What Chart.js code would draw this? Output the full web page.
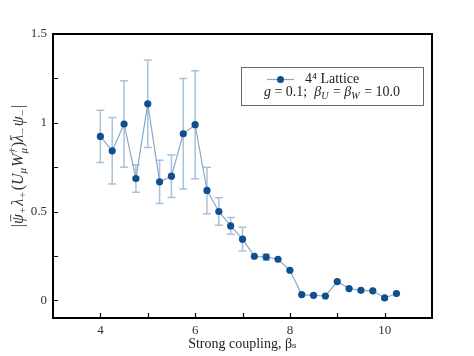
<!DOCTYPE html>
<html>
<head>
<meta charset="utf-8">
<script src="https://cdn.jsdelivr.net/npm/chart.js@4/dist/chart.umd.min.js"></script>
<style>
html,body{margin:0;padding:0;background:#fff;}
#wrap{width:474px;height:356px;position:relative;}
</style>
</head>
<body>
<div id="wrap"><canvas id="c" width="474" height="356"></canvas></div>
<script>
const betaS = [4, 4.25, 4.5, 4.75, 5, 5.25, 5.5, 5.75, 6, 6.25, 6.5, 6.75, 7, 7.25, 7.5, 7.75, 8, 8.25, 8.5, 8.75, 9, 9.25, 9.5, 9.75, 10, 10.25];
const condValues = [0.923, 0.842, 0.993, 0.686, 1.107, 0.667, 0.699, 0.938, 0.989, 0.619, 0.500, 0.419, 0.344, 0.248, 0.243, 0.231, 0.169, 0.032, 0.028, 0.024, 0.105, 0.066, 0.056, 0.053, 0.013, 0.038];
const condErrors = [0.147, 0.187, 0.244, 0.078, 0.246, 0.122, 0.120, 0.311, 0.304, 0.131, 0.077, 0.047, 0.067, 0.008, 0.018, 0.006, 0.004, 0.003, 0.003, 0.003, 0.004, 0.003, 0.003, 0.003, 0.003, 0.003];
const xTickValues = [4, 5, 6, 7, 8, 9, 10];
const xTickLabels = ['4', '6', '8', '10'];
const yTickValues = [0, 0.25, 0.5, 0.75, 1, 1.25, 1.5];
const yTickLabels = ['0', '0.5', '1', '1.5'];
const seriesLabel = '4\u2074 Lattice';
const xTitle = 'Strong coupling, \u03b2\u209b';
const yTitle = '|\u03c8\u0304\u208a\u03bb\u208a(U\u03bcW\u2020\u03bc)\u03bb\u0304\u208b\u03c8\u208b|';

const SERIF = "'Liberation Serif', 'DejaVu Serif', serif";
const MARK = '#0e4f8e';
const LINE = '#86a9c9';
const ERR = '#a7c2da';

const errorBars = {
  id: 'errorBars',
  beforeDatasetsDraw(chart) {
    const ctx = chart.ctx, xs = chart.scales.x, ys = chart.scales.y;
    ctx.save();
    ctx.strokeStyle = ERR;
    ctx.lineWidth = 1.5;
    for (let i = 0; i < betaS.length; i++) {
      const px = xs.getPixelForValue(betaS[i]);
      const top = ys.getPixelForValue(condValues[i] + condErrors[i]);
      const bot = ys.getPixelForValue(condValues[i] - condErrors[i]);
      if (bot - top < 3) continue;
      ctx.beginPath();
      ctx.moveTo(px, top); ctx.lineTo(px, bot);
      ctx.moveTo(px - 4, top); ctx.lineTo(px + 4, top);
      ctx.moveTo(px - 4, bot); ctx.lineTo(px + 4, bot);
      ctx.stroke();
    }
    ctx.restore();
  }
};

function setFont(ctx, s, size) {
  if (s === 's' || s === 'u' || s === 'su') ctx.font = 'italic ' + Math.round(size * 0.7) + 'px ' + SERIF;
  else if (s === 'r') ctx.font = size + 'px ' + SERIF;
  else ctx.font = 'italic ' + size + 'px ' + SERIF;
}
function partWidth(ctx, t, s, size) {
  setFont(ctx, s, size);
  if (s === 'su') return Math.max(ctx.measureText(t[0]).width, ctx.measureText(t[1]).width) + 1;
  return ctx.measureText(t).width + (s === 's' ? 1 : 0);
}
function richWidth(ctx, parts, size) {
  let w = 0;
  for (const [t, s] of parts) w += partWidth(ctx, t, s, size);
  return w;
}
function richText(ctx, parts, x, y, size) {
  let cx = x;
  for (const [t, s] of parts) {
    const w = partWidth(ctx, t, s, size);
    setFont(ctx, s, size);
    if (s === 's') ctx.fillText(t, cx, y + size * 0.28);
    else if (s === 'u') ctx.fillText(t, cx, y - size * 0.35);
    else if (s === 'su') { ctx.fillText(t[0], cx, y - size * 0.38); ctx.fillText(t[1], cx, y + size * 0.3); }
    else {
      ctx.fillText(t, cx, y);
      if (s === 'b') {
        ctx.save();
        ctx.lineWidth = 0.8;
        ctx.strokeStyle = ctx.fillStyle;
        ctx.beginPath();
        ctx.moveTo(cx + w * 0.25, y - size * 0.52);
        ctx.lineTo(cx + w * 0.95, y - size * 0.52);
        ctx.stroke();
        ctx.restore();
      }
    }
    cx += w;
  }
  return cx - x;
}

const frameAndLegend = {
  id: 'frameAndLegend',
  afterDraw(chart) {
    const ctx = chart.ctx, a = chart.chartArea, xs = chart.scales.x, ys = chart.scales.y;
    ctx.save();
    ctx.strokeStyle = '#000';
    ctx.lineWidth = 1.2;
    ctx.beginPath();
    for (const v of xTickValues) {
      const px = Math.round(xs.getPixelForValue(v)) + 0.5;
      ctx.moveTo(px, a.bottom); ctx.lineTo(px, a.bottom - 5);
    }
    for (const v of yTickValues) {
      const py = Math.round(ys.getPixelForValue(v)) + 0.5;
      ctx.moveTo(a.left, py); ctx.lineTo(a.left + 5, py);
    }
    ctx.stroke();
    ctx.lineWidth = 2;
    ctx.strokeRect(a.left, a.top, a.right - a.left, a.bottom - a.top);
    // y axis label
    ctx.fillStyle = '#333';
    ctx.textBaseline = 'middle';
    ctx.textAlign = 'left';
    const ylab = [['|', 'r'], ['\u03c8', 'b'], ['+', 's'], ['\u03bb', 'i'], ['+', 's'], ['(', 'r'], ['U', 'i'], ['\u03bc', 's'], ['W', 'i'], [['\u2020', '\u03bc'], 'su'], [')', 'r'], ['\u03bb', 'b'], ['\u2212', 's'], ['\u03c8', 'i'], ['\u2212', 's'], ['|', 'r']];
    const ysz = 16;
    const yw = richWidth(ctx, ylab, ysz);
    ctx.save();
    ctx.translate(19, 166);
    ctx.rotate(-Math.PI / 2);
    richText(ctx, ylab, -yw / 2, 0, ysz);
    ctx.restore();
    // legend
    const lx = 241, ly = 67, lw = 182, lh = 38;
    ctx.fillStyle = '#fff';
    ctx.fillRect(lx, ly, lw, lh);
    ctx.strokeStyle = '#6a6a6a';
    ctx.lineWidth = 1;
    ctx.strokeRect(lx + 0.5, ly + 0.5, lw, lh);
    ctx.strokeStyle = LINE;
    ctx.lineWidth = 1.2;
    ctx.beginPath();
    ctx.moveTo(267, 79.5); ctx.lineTo(294, 79.5);
    ctx.stroke();
    ctx.fillStyle = MARK;
    ctx.beginPath();
    ctx.arc(280.5, 79.5, 3.5, 0, Math.PI * 2);
    ctx.fill();
    ctx.fillStyle = '#222';
    ctx.font = '14px ' + SERIF;
    ctx.fillText(seriesLabel, 305, 79);
    const line2 = [['g', 'i'], [' = 0.1;  ', 'r'], ['\u03b2', 'i'], ['U', 's'], [' = ', 'r'], ['\u03b2', 'i'], ['W', 's'], [' = 10.0', 'r']];
    const w2 = richWidth(ctx, line2, 14);
    richText(ctx, line2, 332 - w2 / 2, 92.5, 14);
    ctx.restore();
  }
};

new Chart(document.getElementById('c'), {
  type: 'line',
  data: {
    datasets: [{
      label: seriesLabel,
      data: betaS.map((x, i) => ({ x: x, y: condValues[i] })),
      borderColor: LINE,
      borderWidth: 1.2,
      pointRadius: 3.6,
      pointBackgroundColor: MARK,
      pointBorderWidth: 0,
      tension: 0,
      fill: false
    }]
  },
  options: {
    responsive: false,
    animation: false,
    devicePixelRatio: 1,
    layout: { padding: { top: 34, right: 42, left: 0, bottom: 0 } },
    plugins: { legend: { display: false }, tooltip: { enabled: false } },
    scales: {
      x: {
        type: 'linear',
        min: 3, max: 11,
        afterFit(s) { s.height = 38; },
        grid: { display: false, drawTicks: false },
        border: { display: false },
        ticks: {
          stepSize: 1,
          padding: 5,
          color: '#333',
          font: { family: SERIF, size: 13 },
          callback: (v) => xTickLabels.includes(String(v)) ? String(v) : ''
        },
        title: { display: true, text: xTitle, color: '#222', font: { family: SERIF, size: 14 }, padding: { top: 0, bottom: 3 } }
      },
      y: {
        type: 'linear',
        min: -0.1, max: 1.5,
        afterFit(s) { s.width = 53; },
        grid: { display: false, drawTicks: false },
        border: { display: false },
        ticks: {
          stepSize: 0.25,
          includeBounds: false,
          padding: 6,
          color: '#333',
          font: { family: SERIF, size: 13 },
          callback: (v) => yTickLabels.includes(String(v)) ? String(v) : ''
        },
        title: { display: false, text: yTitle }
      }
    }
  },
  plugins: [errorBars, frameAndLegend]
});
</script>
</body>
</html>
